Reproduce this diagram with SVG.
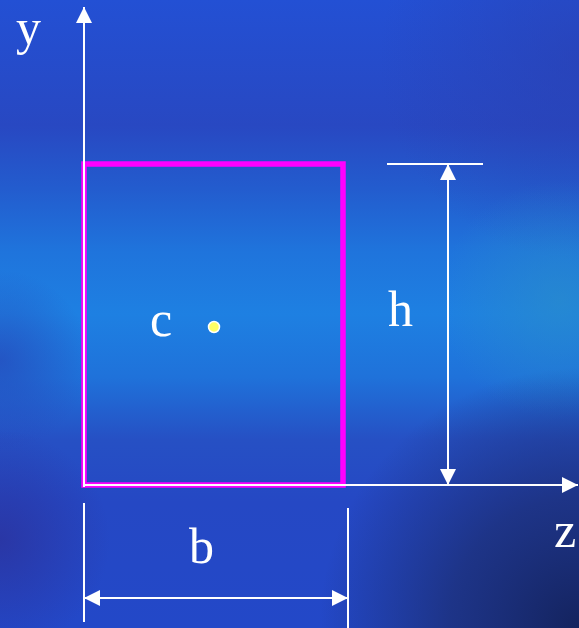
<svg xmlns="http://www.w3.org/2000/svg" width="579" height="628" viewBox="0 0 579 628">
<style>
.lbl{font-family:"Liberation Serif","Times New Roman",serif;font-size:50px;fill:#ffffff}
.ln{stroke:#ffffff;stroke-width:2;fill:none}
</style>
<defs>
<linearGradient id="bg" x1="0" y1="0" x2="0" y2="1">
<stop offset="0" stop-color="#2350d4"/>
<stop offset="0.2" stop-color="#2848c2"/>
<stop offset="0.3" stop-color="#235cce"/>
<stop offset="0.4" stop-color="#1f74dc"/>
<stop offset="0.5" stop-color="#1e80e2"/>
<stop offset="0.6" stop-color="#1f72da"/>
<stop offset="0.7" stop-color="#2650c4"/>
<stop offset="0.8" stop-color="#2548c4"/>
<stop offset="1" stop-color="#2348c8"/>
</linearGradient>
<radialGradient id="dk" cx="579" cy="628" r="260" gradientUnits="userSpaceOnUse">
<stop offset="0" stop-color="#14235e" stop-opacity="1"/>
<stop offset="0.5" stop-color="#1c2f78" stop-opacity="0.8"/>
<stop offset="1" stop-color="#1c2f78" stop-opacity="0"/>
</radialGradient>
<radialGradient id="dk2" cx="0" cy="540" r="110" gradientUnits="userSpaceOnUse">
<stop offset="0" stop-color="#2c2f98" stop-opacity="0.7"/>
<stop offset="1" stop-color="#2c2f98" stop-opacity="0"/>
</radialGradient>
<radialGradient id="dk3" cx="0" cy="360" r="90" gradientUnits="userSpaceOnUse">
<stop offset="0" stop-color="#2740b4" stop-opacity="0.6"/>
<stop offset="1" stop-color="#2740b4" stop-opacity="0"/>
</radialGradient>
<radialGradient id="cy" cx="560" cy="300" r="120" gradientUnits="userSpaceOnUse">
<stop offset="0" stop-color="#2a8ec8" stop-opacity="0.6"/>
<stop offset="1" stop-color="#2a8ec8" stop-opacity="0"/>
</radialGradient>
<radialGradient id="tr" cx="579" cy="60" r="200" gradientUnits="userSpaceOnUse">
<stop offset="0" stop-color="#2a3fb0" stop-opacity="0.6"/>
<stop offset="1" stop-color="#2a3fb0" stop-opacity="0"/>
</radialGradient>
<marker id="ah" markerUnits="userSpaceOnUse" markerWidth="16" markerHeight="16" viewBox="0 0 16 16" refX="16" refY="8" orient="auto-start-reverse">
<path d="M0,0 L16,8 L0,16 Z" fill="#ffffff"/>
</marker>
</defs>
<rect width="579" height="628" fill="url(#bg)"/>
<rect width="579" height="628" fill="url(#tr)"/>
<rect width="579" height="628" fill="url(#cy)"/>
<rect width="579" height="628" fill="url(#dk3)"/>
<rect width="579" height="628" fill="url(#dk2)"/>
<rect width="579" height="628" fill="url(#dk)"/>
<g id="section">
<rect x="84" y="164" width="259" height="321" fill="none" stroke="#ff00ff" stroke-width="5.5"/>
</g>
<g id="connectors">
<line class="ln" x1="84" y1="487" x2="84" y2="7" marker-end="url(#ah)"/>
<line class="ln" x1="84" y1="485" x2="578" y2="485" marker-end="url(#ah)"/>
<line class="ln" x1="387" y1="164" x2="483" y2="164"/>
<line class="ln" x1="448" y1="164" x2="448" y2="485" marker-start="url(#ah)" marker-end="url(#ah)"/>
<line class="ln" x1="84" y1="503" x2="84" y2="622"/>
<line class="ln" x1="348" y1="508" x2="348" y2="628"/>
<line class="ln" x1="84" y1="598" x2="348" y2="598" marker-start="url(#ah)" marker-end="url(#ah)"/>
</g>
<g id="centroid">
<circle cx="214" cy="327" r="5.5" fill="#ffff66" stroke="#ffffff" stroke-width="1.5"/>
</g>
<g id="label-y"><text class="lbl" x="16" y="44">y</text></g>
<g id="label-z"><text class="lbl" x="554" y="547">z</text></g>
<g id="label-c"><text class="lbl" x="150" y="336">c</text></g>
<g id="label-h"><text class="lbl" x="388" y="326">h</text></g>
<g id="label-b"><text class="lbl" x="189" y="563">b</text></g>
</svg>
